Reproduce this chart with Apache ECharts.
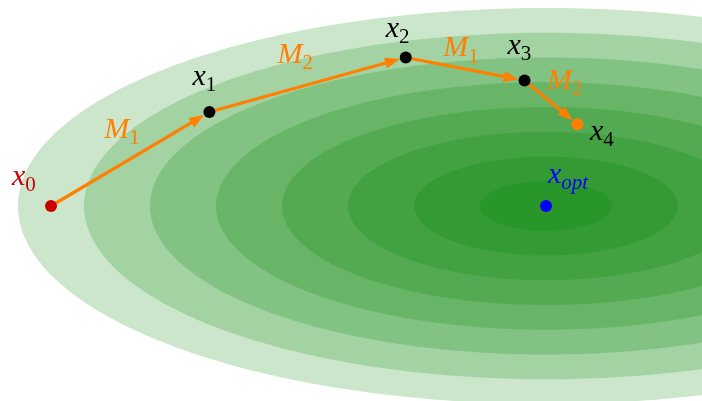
<!DOCTYPE html>
<html><head><meta charset="utf-8">
<script src="https://cdn.jsdelivr.net/npm/echarts@6/dist/echarts.min.js"></script>
<style>html,body{margin:0;padding:0;background:#fff}#c{width:702px;height:401px}</style>
</head><body><div id="c"></div>
<script>
// ---- data ----
const pointSub = ['0', '1', '2', '3', '4', 'opt'];
const pointX = [-15, -10.2, -4.25, -0.65, 0.95, 0];
const pointY = [0, 2.85, 4.5, 3.8, 2.48, 0];
const stepFrom = [0, 1, 2, 3];
const stepTo = [1, 2, 3, 4];
const stepSub = ['1', '2', '1', '2'];
const levelSemiX = [16, 14, 12, 10, 8, 6, 4, 2];
const levelSemiY = [6, 5.25, 4.5, 3.75, 3, 2.25, 1.5, 0.75];
const optIndex = 5;

// ---- styles ----
const ORANGE = '#ff8000';
const pointColor = ['#cc0000', '#000000', '#000000', '#000000', '#ff8000', '#0000ff'];
const labelColor = ['#cc0000', '#000000', '#000000', '#000000', '#000000', '#0000ff'];
const pointLabelOffset = [[-39, -29], [-17, -35], [-20, -28.5], [-17, -34.5], [12.6, 7.5], [2, -31]];
const stepLabelOffset = [[-26, -29], [-30, -29.5], [-22, -20.5], [-4, -21]];
const FONT = "'Liberation Serif', 'Times New Roman', serif";
const rich = {
  m: { fontFamily: FONT, fontStyle: 'italic', fontSize: 30, lineHeight: 38, verticalAlign: 'middle' },
  s: { fontFamily: FONT, fontSize: 21, lineHeight: 21, verticalAlign: 'bottom' },
  si: { fontFamily: FONT, fontStyle: 'italic', fontSize: 21, lineHeight: 21, verticalAlign: 'bottom' }
};

const chart = echarts.init(document.getElementById('c'), null, { renderer: 'canvas' });

const ellipseData = levelSemiX.map((a, i) => [pointX[optIndex], pointY[optIndex], a, levelSemiY[i]]);
const stepData = stepFrom.map((f, i) => [pointX[f], pointY[f], pointX[stepTo[i]], pointY[stepTo[i]]]);
const pointData = pointX.map((x, i) => ({ value: [x, pointY[i]], itemStyle: { color: pointColor[i], opacity: 1 } }));

chart.setOption({
  animation: false,
  backgroundColor: '#ffffff',
  grid: { left: 0, right: 0, top: 0, bottom: 0 },
  xAxis: { type: 'value', min: -546 / 33, max: 156 / 33, show: false },
  yAxis: { type: 'value', min: -195 / 33, max: 206 / 33, show: false },
  series: [
    {
      type: 'custom', z: 1, silent: true,
      data: ellipseData,
      encode: { x: 0, y: 1 },
      renderItem(params, api) {
        const c = api.coord([api.value(0), api.value(1)]);
        const s = api.size([api.value(2), api.value(3)]);
        const pts = [];
        for (let t = 0; t < 360; t++) {
          const r = t * Math.PI / 180;
          pts.push([c[0] + s[0] * Math.cos(r), c[1] + s[1] * Math.sin(r)]);
        }
        return { type: 'polygon', shape: { points: pts }, style: { fill: 'rgba(0,128,0,0.2)' } };
      }
    },
    {
      type: 'custom', z: 2, silent: true,
      data: stepData,
      encode: { x: [0, 2], y: [1, 3] },
      renderItem(params, api) {
        const i = params.dataIndex;
        const p0 = api.coord([api.value(0), api.value(1)]);
        const p1 = api.coord([api.value(2), api.value(3)]);
        const dx = p1[0] - p0[0], dy = p1[1] - p0[1];
        const len = Math.hypot(dx, dy);
        const ux = dx / len, uy = dy / len, nx = -uy, ny = ux;
        const R = 6, HL = 15, HW = 5.5;
        const tip = [p1[0] - ux * R, p1[1] - uy * R];
        const base = [tip[0] - ux * HL, tip[1] - uy * HL];
        const mid = [(p0[0] + p1[0]) / 2, (p0[1] + p1[1]) / 2];
        const off = stepLabelOffset[i];
        return {
          type: 'group', children: [
            { type: 'line', shape: { x1: p0[0], y1: p0[1], x2: base[0] + ux * 3, y2: base[1] + uy * 3 }, style: { stroke: ORANGE, lineWidth: 3.2 } },
            { type: 'polygon', shape: { points: [tip, [base[0] + nx * HW, base[1] + ny * HW], [base[0] - nx * HW, base[1] - ny * HW]] }, style: { fill: ORANGE } },
            { type: 'text', x: mid[0] + off[0], y: mid[1] + off[1], style: { text: '{m|M}{s|' + stepSub[i] + '}', rich: rich, fill: ORANGE, align: 'left', verticalAlign: 'middle' } }
          ]
        };
      }
    },
    {
      type: 'scatter', z: 3, silent: true,
      symbol: 'circle', symbolSize: 12,
      itemStyle: { opacity: 1 },
      data: pointData
    },
    {
      type: 'custom', z: 4, silent: true,
      data: pointX.map((x, i) => [x, pointY[i]]),
      encode: { x: 0, y: 1 },
      renderItem(params, api) {
        const i = params.dataIndex;
        const p = api.coord([api.value(0), api.value(1)]);
        const off = pointLabelOffset[i];
        const subKey = pointSub[i] === 'opt' ? 'si' : 's';
        return {
          type: 'text', x: p[0] + off[0], y: p[1] + off[1],
          style: { text: '{m|x}{' + subKey + '|' + pointSub[i] + '}', rich: rich, fill: labelColor[i], align: 'left', verticalAlign: 'middle' }
        };
      }
    }
  ]
});
</script>
</body></html>
